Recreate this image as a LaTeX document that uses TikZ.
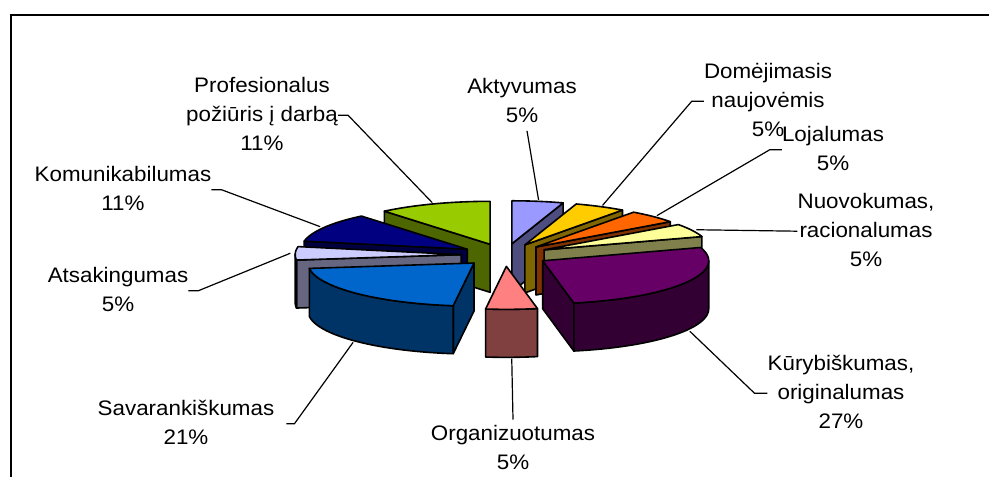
\documentclass[tikz,border=0pt]{standalone}
\usepackage{fontspec}
\newfontfamily\lblfont[FakeStretch=1.065]{Liberation Sans}
\usetikzlibrary{calc}

% slice colours: top face / darker side faces
\definecolor{aktTop}{HTML}{9999FF}\definecolor{aktSide}{HTML}{4D4D80}
\definecolor{domTop}{HTML}{FFCC00}\definecolor{domSide}{HTML}{806600}
\definecolor{lojTop}{HTML}{FF6600}\definecolor{lojSide}{HTML}{803300}
\definecolor{nuoTop}{HTML}{FFFF99}\definecolor{nuoSide}{HTML}{80804D}
\definecolor{kurTop}{HTML}{660066}\definecolor{kurSide}{HTML}{330033}
\definecolor{orgTop}{HTML}{FF8080}\definecolor{orgSide}{HTML}{804040}
\definecolor{savTop}{HTML}{0066CC}\definecolor{savSide}{HTML}{003366}
\definecolor{atsTop}{HTML}{CCCCFF}\definecolor{atsSide}{HTML}{666680}
\definecolor{komTop}{HTML}{000080}\definecolor{komSide}{HTML}{000040}
\definecolor{proTop}{HTML}{99CC00}\definecolor{proSide}{HTML}{4D6600}

% pie geometry: ellipse semi-axes, thickness, centre, explosion
\def\pieA{166}\def\pieB{43}\def\pieH{48}
\def\pieCX{505}\def\pieCY{255}\def\pieExp{0.264}

% set up one slice running clockwise from #2 to #3 degrees
\newcommand\pieslice[3]{%
  \pgfmathsetmacro\slA{#2}\pgfmathsetmacro\slB{#3}%
  \pgfmathsetmacro\slM{(#2+#3)/2}%
  \pgfmathsetmacro\apx{\pieCX+\pieExp*\pieA*cos(\slM)}%
  \pgfmathsetmacro\apy{\pieCY-\pieExp*\pieB*sin(\slM)}%
  \coordinate (#1) at (\apx,\apy);
  \coordinate (#1-top) at ({\apx+1.03*\pieA*cos(\slM)},{\apy-1.03*\pieB*sin(\slM)});
  \coordinate (#1-low) at ({\apx+1.03*\pieA*cos(\slM)},{\apy-1.03*\pieB*sin(\slM)+\pieH});
}
% radial cut face at angle #1
\newcommand\cutface[2]{%
  \filldraw[pieedge, fill=#2] (\apx,\apy) -- ({\apx+\pieA*cos(#1)},{\apy-\pieB*sin(#1)})
    -- ++(0,\pieH) -- ({\apx},{\apy+\pieH}) -- cycle;}
% outer curved face between angles #1 and #2
\newcommand\rimface[3]{%
  \filldraw[pieedge, fill=#3]
    plot[domain=#1:#2, samples=40, variable=\t] ({\apx+\pieA*cos(\t)},{\apy-\pieB*sin(\t)})
    -- plot[domain=#2:#1, samples=40, variable=\t] ({\apx+\pieA*cos(\t)},{\apy-\pieB*sin(\t)+\pieH})
    -- cycle;}
% top face of the current slice
\newcommand\topface[1]{%
  \filldraw[pieedge, fill=#1] (\apx,\apy)
    -- plot[domain=\slA:\slB, samples=40, variable=\t] ({\apx+\pieA*cos(\t)},{\apy-\pieB*sin(\t)})
    -- cycle;}
\newcommand\lbltext[1]{\begin{tabular}[t]{@{}c@{}}#1\end{tabular}}

\tikzset{
  pieedge/.style={draw=black, line width=1.6pt, line join=round},
  leader/.style={draw=black, line width=1.2pt},
  lbl/.style={font=\lblfont\fontsize{21}{29}\selectfont, inner sep=0pt, anchor=base},
}

\begin{document}
\begin{tikzpicture}[x=1pt,y=-1pt]
\useasboundingbox (0,0) rectangle (989,477);
\fill[white] (0,0) rectangle (989,477);
\draw[line width=2pt] (11,477) -- (11,15) -- (989,15);

% slices, back to front
\pieslice{sAkt}{90}{72}       \cutface{72}{aktSide}  \topface{aktTop}
\pieslice{sPro}{129.6}{90}    \cutface{129.6}{proSide} \topface{proTop}
\pieslice{sDom}{72}{54}       \cutface{54}{domSide}  \topface{domTop}
\pieslice{sKom}{169.2}{129.6} \cutface{169.2}{komSide} \topface{komTop}
\pieslice{sLoj}{54}{36}       \cutface{36}{lojSide}  \topface{lojTop}
\pieslice{sAts}{187.2}{169.2} \cutface{187.2}{atsSide} \rimface{187.2}{180}{atsSide} \topface{atsTop}
\pieslice{sNuo}{36}{18}       \cutface{18}{nuoSide}  \topface{nuoTop}
\pieslice{sSav}{-97.2}{-172.8} \cutface{-97.2}{savSide} \rimface{-97.2}{-172.8}{savSide} \topface{savTop}
\pieslice{sKur}{18}{-79.2}    \cutface{-79.2}{kurSide} \rimface{0}{-79.2}{kurSide} \topface{kurTop}
\pieslice{sOrg}{-79.2}{-97.2} \rimface{-79.2}{-97.2}{orgSide} \topface{orgTop}

% data labels
\node[lbl] (lPro) at (262,92)  {\lbltext{Profesionalus\\požiūris į darbą\\11\%}};
\node[lbl] (lAkt) at (522,93)  {\lbltext{Aktyvumas\\5\%}};
\node[lbl] (lDom) at (768,78)  {\lbltext{Domėjimasis\\naujovėmis\\5\%}};
\node[lbl] (lLoj) at (833,141) {\lbltext{Lojalumas\\5\%}};
\node[lbl] (lNuo) at (866,208) {\lbltext{Nuovokumas,\\racionalumas\\5\%}};
\node[lbl] (lKur) at (841,370) {\lbltext{Kūrybiškumas,\\originalumas\\27\%}};
\node[lbl] (lOrg) at (513,440) {\lbltext{Organizuotumas\\5\%}};
\node[lbl] (lSav) at (186,415) {\lbltext{Savarankiškumas\\21\%}};
\node[lbl] (lAts) at (118,282) {\lbltext{Atsakingumas\\5\%}};
\node[lbl] (lKom) at (123,181) {\lbltext{Komunikabilumas\\11\%}};

% leader lines
\draw[leader] (lPro.east) -- ++(10,0) -- (sPro-top);
\draw[leader] (lKom.east) -- ++(10,0) -- (sKom-top);
\draw[leader] (lAts.east) -- ++(10,0) -- (sAts-top);
\draw[leader] ([xshift=12pt]lSav.east) -- ++(8,0) -- (sSav-low);
\draw[leader] (lOrg.north) -- (sOrg-low);
\draw[leader] ([xshift=5pt]lAkt.south) -- (sAkt-top);
\draw[leader] (lDom.west) -- ++(-12,0) -- (sDom-top);
\draw[leader] (lLoj.west) -- ++(-12,0) -- (sLoj-top);
\draw[leader] (lNuo.west) -- (sNuo-top);
\draw[leader] (lKur.west) -- ++(-13,0) -- (sKur-low);
\end{tikzpicture}
\end{document}
